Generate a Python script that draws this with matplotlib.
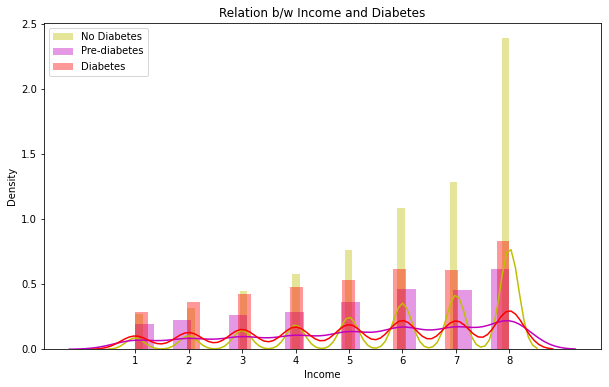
import numpy as np
import matplotlib
matplotlib.use("Agg")
import matplotlib.pyplot as plt

# income levels and share of each group at each level
income = np.arange(1, 9)
share_no = [0.038, 0.045, 0.063, 0.081, 0.107, 0.153, 0.181, 0.336]
share_pre = [0.068, 0.079, 0.092, 0.101, 0.128, 0.163, 0.160, 0.219]
share_dia = [0.070, 0.088, 0.104, 0.117, 0.129, 0.151, 0.149, 0.202]

# histogram bin counts and kde bandwidths per group
bins_no, bins_pre, bins_dia = 50, 20, 29
bw_no, bw_pre, bw_dia = 0.172, 0.41, 0.27

groups = [
    ("No Diabetes", share_no, bins_no, bw_no, "y"),
    ("Pre-diabetes", share_pre, bins_pre, bw_pre, "m"),
    ("Diabetes", share_dia, bins_dia, bw_dia, "r"),
]


def kde_curve(x, w, bw, cut=3, gridsize=100):
    w = np.asarray(w, float)
    w = w / w.sum()
    grid = np.linspace(x.min() - cut * bw, x.max() + cut * bw, gridsize)
    z = (grid[:, None] - x[None, :]) / bw
    dens = (w[None, :] * np.exp(-0.5 * z ** 2)).sum(axis=1) / (bw * np.sqrt(2 * np.pi))
    return grid, dens


fig = plt.figure(figsize=(609 / 72, 387 / 72), dpi=72)
ax = fig.add_axes([44 / 609, 37.7 / 387, 556.5 / 609, 326.8 / 387])

for label, share, nb, bw, col in groups:
    ax.hist(income, bins=nb, range=(1, 8), weights=share, density=True,
            color=col, alpha=0.4, label=label)
    gx, gy = kde_curve(income, share, bw)
    ax.plot(gx, gy, color=col, lw=1.5)

ax.set_xticks(income)
ax.set_title("Relation b/w Income and Diabetes", fontsize=12)
ax.set_xlabel("Income")
ax.set_ylabel("Density")
ax.legend(loc="upper left")

fig.savefig("out.png", dpi=72)
